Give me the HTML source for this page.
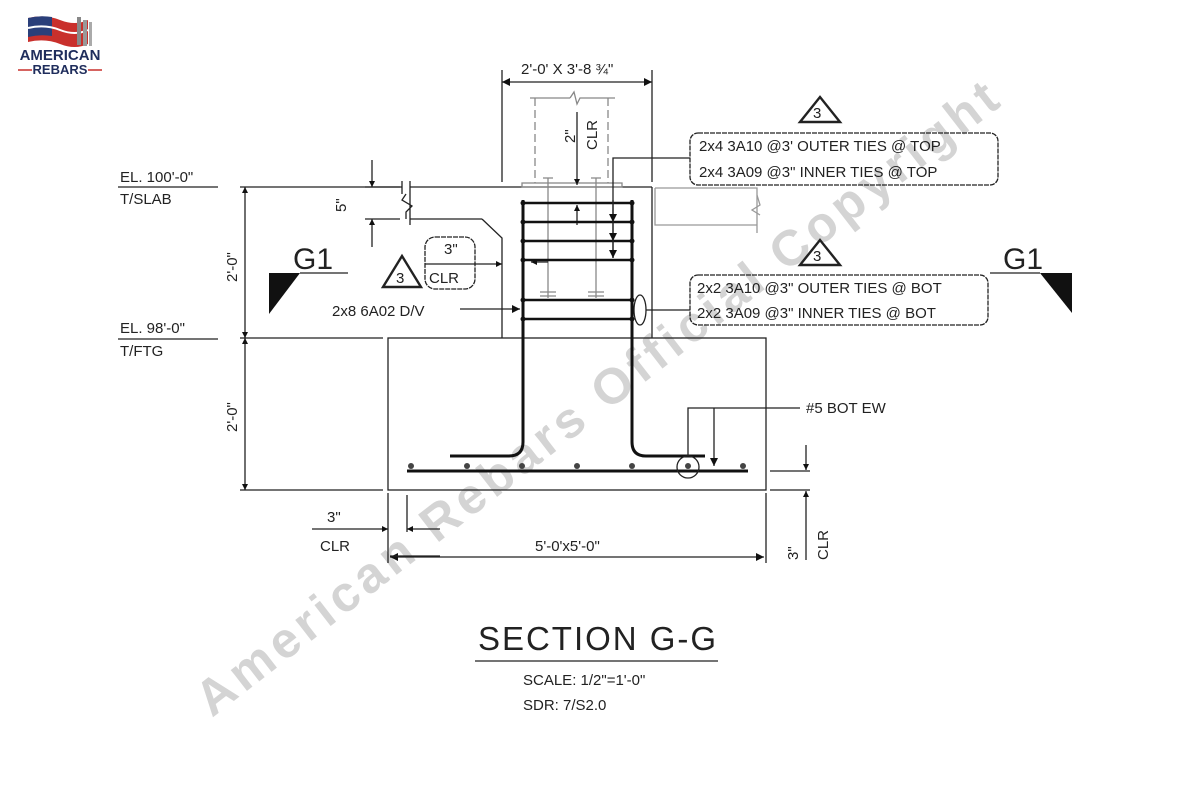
<!DOCTYPE html>
<html><head><meta charset="utf-8"><style>
html,body{margin:0;padding:0;background:#fff;}
svg{display:block;}
text{font-family:"Liberation Sans",sans-serif;fill:#222;}
</style></head><body>
<svg width="1200" height="800" viewBox="0 0 1200 800" xmlns="http://www.w3.org/2000/svg">
<defs>
<marker id="a" viewBox="0 0 10 10" refX="10" refY="5" markerWidth="10" markerHeight="6" orient="auto-start-reverse" markerUnits="userSpaceOnUse"><path d="M0,0 L10,5 L0,10 z" fill="#111"/></marker>
<marker id="b" viewBox="0 0 10 10" refX="10" refY="5" markerWidth="16" markerHeight="8" orient="auto-start-reverse" markerUnits="userSpaceOnUse"><path d="M0,0 L10,5 L0,10 z" fill="#111"/></marker>
</defs>
<rect width="1200" height="800" fill="#fff"/>

<!-- logo -->
<g>
<path d="M28,18 Q45,14 60,20 Q75,26 88,20 L88,44 Q75,50 60,44 Q45,38 28,42 z" fill="#c9302c"/>
<path d="M28,18 Q40,15 52,17 L52,36 Q40,34 28,37 z" fill="#2a3f7a"/>
<path d="M28,28 Q45,24 60,30 Q75,36 88,30" stroke="#fff" stroke-width="2" fill="none"/>
<rect x="77" y="17" width="4" height="28" fill="#888"/><rect x="83" y="20" width="4" height="26" fill="#999"/><rect x="89" y="22" width="3" height="24" fill="#aaa"/>
<text x="60" y="60" text-anchor="middle" font-size="15" font-weight="bold" style="fill:#1f2d5c">AMERICAN</text>
<text x="60" y="74" text-anchor="middle" font-size="13" font-weight="bold" style="fill:#1f2d5c">REBARS</text>
<line x1="18" y1="70" x2="32" y2="70" stroke="#c9302c" stroke-width="1.5"/><line x1="88" y1="70" x2="102" y2="70" stroke="#c9302c" stroke-width="1.5"/>
</g>

<text transform="translate(212,718) rotate(-37.8)" font-size="50" font-weight="bold" style="fill:#d4d4d4" textLength="1000">American Rebars Official Copyright</text>

<g stroke="#222" stroke-width="1.3" fill="none">
<line x1="240" y1="187" x2="402" y2="187"/>
<line x1="410" y1="187" x2="652" y2="187"/>
<line x1="410" y1="219" x2="482" y2="219"/>
<polyline points="482,219 502,238 502,338"/>
<path d="M402,181 L402,194 M410,181 L410,225 M406,194 L402,200 L412,206 L406,212 L406,219"/>
<line x1="652" y1="187" x2="652" y2="338"/>
<line x1="240" y1="338" x2="383" y2="338"/>
<rect x="388" y="338" width="378" height="152"/>
<line x1="240" y1="490" x2="383" y2="490"/>
<g stroke="#999"><polyline points="655,188 757,188 757,233"/><polyline points="655,188 655,225 757,225"/><path d="M757,195 L760,205 L752,210 L760,215"/></g>
<g stroke="#888"><line x1="530" y1="98" x2="570" y2="98"/><path d="M570,98 L574,92 L577,104 L580,98 L615,98"/>
<line x1="535" y1="98" x2="535" y2="183" stroke-dasharray="8,4"/><line x1="608" y1="98" x2="608" y2="183" stroke-dasharray="8,4"/>
<rect x="522" y="183" width="100" height="4"/>
<line x1="548" y1="178" x2="548" y2="298"/><line x1="596" y1="178" x2="596" y2="298"/>
<path d="M540,292 h16 M540,296 h16 M588,292 h16 M588,296 h16 M543,178 h10 M591,178 h10"/></g>
<line x1="502" y1="70" x2="502" y2="182"/><line x1="652" y1="70" x2="652" y2="182"/>
<line x1="502" y1="82" x2="652" y2="82" marker-start="url(#b)" marker-end="url(#b)"/>
<line x1="577" y1="112" x2="577" y2="185" marker-end="url(#a)"/>
<line x1="577" y1="225" x2="577" y2="205" marker-end="url(#a)"/>
<line x1="548" y1="262" x2="531" y2="262" marker-end="url(#a)"/>
</g>
<text transform="translate(575,143) rotate(-90)" font-size="15">2"</text>
<text transform="translate(597,150) rotate(-90)" font-size="15">CLR</text>
<text x="521" y="74" font-size="15">2'-0' X 3'-8 ¾"</text>

<g stroke="#111" stroke-width="3" fill="none">
<path d="M523,200 L523,442 Q523,456 509,456 L450,456"/>
<path d="M632,200 L632,442 Q632,456 646,456 L705,456"/>
<path d="M407,471 L748,471"/>
<g stroke-width="2.6"><line x1="523" y1="203" x2="632" y2="203"/><line x1="523" y1="222" x2="632" y2="222"/><line x1="523" y1="241" x2="632" y2="241"/><line x1="523" y1="260" x2="632" y2="260"/><line x1="523" y1="300" x2="632" y2="300"/><line x1="523" y1="319" x2="632" y2="319"/></g>
</g>
<g fill="#111">
<circle cx="523" cy="203" r="2.5"/><circle cx="632" cy="203" r="2.5"/><circle cx="523" cy="222" r="2.5"/><circle cx="632" cy="222" r="2.5"/><circle cx="523" cy="241" r="2.5"/><circle cx="632" cy="241" r="2.5"/><circle cx="523" cy="260" r="2.5"/><circle cx="632" cy="260" r="2.5"/><circle cx="523" cy="300" r="2.5"/><circle cx="632" cy="300" r="2.5"/><circle cx="523" cy="319" r="2.5"/><circle cx="632" cy="319" r="2.5"/>
<g fill="#444"><circle cx="411" cy="466" r="3"/><circle cx="467" cy="466" r="3"/><circle cx="522" cy="466" r="3"/><circle cx="577" cy="466" r="3"/><circle cx="632" cy="466" r="3"/><circle cx="688" cy="466" r="3"/><circle cx="743" cy="466" r="3"/></g>
</g>

<g stroke="#222" stroke-width="1.3" fill="none">
<circle cx="688" cy="467" r="11"/>
<polyline points="688,456 688,408 800,408"/>
<line x1="714" y1="408" x2="714" y2="466" marker-end="url(#b)"/>
<polyline points="690,158 613,158 613,258"/>
<line x1="613" y1="200" x2="613" y2="222" marker-end="url(#b)"/>
<line x1="613" y1="222" x2="613" y2="241" marker-end="url(#b)"/>
<line x1="613" y1="241" x2="613" y2="258" marker-end="url(#b)"/>
<ellipse cx="640" cy="310" rx="6" ry="15"/>
<line x1="646" y1="310" x2="690" y2="310"/>
<line x1="460" y1="309" x2="520" y2="309" marker-end="url(#b)"/>
<line x1="425" y1="264" x2="502" y2="264" marker-end="url(#a)"/>
<line x1="372" y1="160" x2="372" y2="187" marker-end="url(#a)"/>
<line x1="372" y1="247" x2="372" y2="219" marker-end="url(#a)"/>
<line x1="365" y1="187" x2="400" y2="187"/><line x1="365" y1="219" x2="400" y2="219"/>
<line x1="245" y1="187" x2="245" y2="338" marker-start="url(#a)" marker-end="url(#a)"/>
<line x1="245" y1="338" x2="245" y2="490" marker-start="url(#a)" marker-end="url(#a)"/>
<line x1="118" y1="187" x2="218" y2="187"/><line x1="118" y1="339" x2="218" y2="339"/>
<line x1="388" y1="493" x2="388" y2="563"/><line x1="407" y1="495" x2="407" y2="532"/><line x1="766" y1="493" x2="766" y2="563"/>
<line x1="390" y1="557" x2="764" y2="557" marker-start="url(#b)" marker-end="url(#b)"/>
<line x1="312" y1="529" x2="388" y2="529" marker-end="url(#a)"/>
<line x1="440" y1="529" x2="407" y2="529" marker-end="url(#a)"/>
<line x1="440" y1="556" x2="390" y2="556"/>
<line x1="770" y1="471" x2="810" y2="471"/><line x1="770" y1="490" x2="810" y2="490"/>
<line x1="806" y1="445" x2="806" y2="470" marker-end="url(#a)"/>
<line x1="806" y1="560" x2="806" y2="491" marker-end="url(#a)"/>
<line x1="300" y1="273" x2="348" y2="273"/><line x1="990" y1="273" x2="1040" y2="273"/>
<rect x="690" y="133" width="308" height="52" rx="8" stroke-dasharray="5,1"/>
<rect x="690" y="275" width="298" height="50" rx="8" stroke-dasharray="5,1"/>
<rect x="425" y="237" width="50" height="52" rx="10" stroke-dasharray="5,1"/>
<polygon points="800,122 820,97 840,122" stroke-width="2.4"/>
<polygon points="800,265 820,240 840,265" stroke-width="2.4"/>
<polygon points="383,287 402,256 421,287" stroke-width="2.4"/>
<line x1="475" y1="661" x2="718" y2="661"/>
</g>
<polygon points="269,273 300,273 269,314" fill="#111"/>
<polygon points="1040,273 1072,273 1072,313" fill="#111"/>

<g font-size="15">
<text x="813" y="118">3</text><text x="813" y="261">3</text><text x="396" y="283">3</text>
<text x="699" y="151">2x4 3A10 @3' OUTER TIES @ TOP</text>
<text x="699" y="177">2x4 3A09 @3" INNER TIES @ TOP</text>
<text x="697" y="293">2x2 3A10 @3" OUTER TIES @ BOT</text>
<text x="697" y="318">2x2 3A09 @3" INNER TIES @ BOT</text>
<text x="444" y="254">3"</text><text x="429" y="283">CLR</text>
<text x="332" y="316">2x8 6A02  D/V</text>
<text x="806" y="413">#5 BOT EW</text>
<text x="120" y="182">EL. 100'-0"</text><text x="120" y="204">T/SLAB</text>
<text x="120" y="333">EL. 98'-0"</text><text x="120" y="356">T/FTG</text>
<text transform="translate(237,282) rotate(-90)">2'-0"</text>
<text transform="translate(237,432) rotate(-90)">2'-0"</text>
<text transform="translate(346,212) rotate(-90)">5"</text>
<text x="327" y="522">3"</text><text x="320" y="551">CLR</text>
<text x="535" y="551">5'-0'x5'-0"</text>
<text transform="translate(798,560) rotate(-90)">3"</text>
<text transform="translate(828,560) rotate(-90)">CLR</text>
<text x="523" y="685">SCALE: 1/2"=1'-0"</text>
<text x="523" y="710">SDR: 7/S2.0</text>
</g>
<text x="293" y="269" font-size="30">G1</text>
<text x="1003" y="269" font-size="30">G1</text>
<text x="478" y="650" font-size="33" textLength="238">SECTION G-G</text>
</svg>
</body></html>
